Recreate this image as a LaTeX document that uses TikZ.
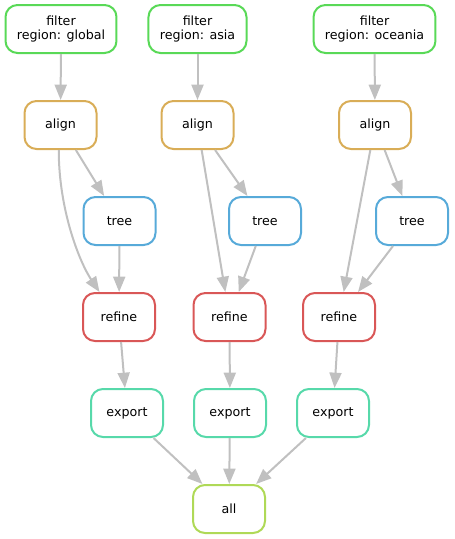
\documentclass[tikz,border=0pt]{standalone}
\usepackage{fontspec}
\setmainfont{DejaVu Sans}
\usetikzlibrary{arrows.meta}

\definecolor{cfilter}{RGB}{89,217,87}
\definecolor{calign}{RGB}{217,173,87}
\definecolor{ctree}{RGB}{87,170,217}
\definecolor{crefine}{RGB}{217,87,87}
\definecolor{cexport}{RGB}{87,217,170}
\definecolor{call}{RGB}{175,217,87}
\definecolor{cedge}{RGB}{192,192,192}

\tikzset{every picture/.style={line width=0.75pt}}
\tikzset{
  jobbox/.style={draw=#1, line width=1.5pt, rounded corners=9pt, minimum width=54pt, minimum height=36pt, inner xsep=8.5pt, align=center, font=\fontsize{9.5}{10.5}\selectfont},
  edgeline/.style={draw=cedge, line width=1.5pt, -{Triangle[length=11.5pt,width=9pt]}}
}

\begin{document}
\begin{tikzpicture}[x=0.75pt,y=0.75pt,yscale=-1,xscale=1]
\useasboundingbox (0,0) rectangle (454,539);

% filter
\node [jobbox=cfilter] (filter1) at (61,29) {filter\\region: global};
\node [jobbox=cfilter] (filter2) at (197.5,29) {filter\\region: asia};
\node [jobbox=cfilter] (filter3) at (374.5,29) {filter\\region: oceania};
% align
\node [jobbox=calign] (align1) at (60.5,125) {align};
\node [jobbox=calign] (align2) at (197.5,125) {align};
\node [jobbox=calign] (align3) at (375,125) {align};
% tree
\node [jobbox=ctree] (tree1) at (119.5,221) {tree};
\node [jobbox=ctree] (tree2) at (265,221) {tree};
\node [jobbox=ctree] (tree3) at (412,221) {tree};
% refine
\node [jobbox=crefine] (refine1) at (119,317) {refine};
\node [jobbox=crefine] (refine2) at (229.5,317) {refine};
\node [jobbox=crefine] (refine3) at (339,317) {refine};
% export
\node [jobbox=cexport] (export1) at (127,413) {export};
\node [jobbox=cexport] (export2) at (230,413) {export};
\node [jobbox=cexport] (export3) at (333,413) {export};
% all
\node [jobbox=call] (all) at (229,509) {all};

% edges
\draw [edgeline] (filter1) -- (align1);
\draw [edgeline] (filter2) -- (align2);
\draw [edgeline] (filter3) -- (align3);
\draw [edgeline] (align1) -- (tree1);
\draw [edgeline] (align2) -- (tree2);
\draw [edgeline] (align3) -- (tree3);
\draw [edgeline] (align1.266) .. controls +(0,60) and +(-20,-30) .. (refine1.128);
\draw [edgeline] (align2) -- (refine2);
\draw [edgeline] (align3) -- (refine3);
\draw [edgeline] (tree1) -- (refine1);
\draw [edgeline] (tree2) -- (refine2);
\draw [edgeline] (tree3) -- (refine3);
\draw [edgeline] (refine1) -- (export1);
\draw [edgeline] (refine2) -- (export2);
\draw [edgeline] (refine3) -- (export3);
\draw [edgeline] (export1) -- (all);
\draw [edgeline] (export2) -- (all);
\draw [edgeline] (export3) -- (all);

\end{tikzpicture}
\end{document}
